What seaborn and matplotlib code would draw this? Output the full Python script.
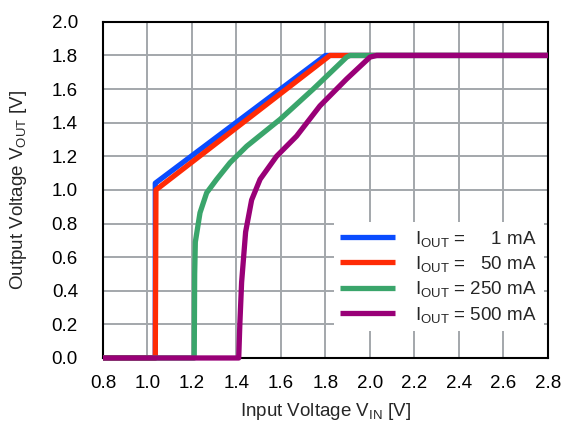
import pandas as pd
import seaborn as sns
from matplotlib import pyplot as plt

# (V_IN, V_OUT)
vin_1ma = [0.8, 1.035, 1.035, 1.80, 2.8]
vout_1ma = [0.0, 0.0, 1.04, 1.80, 1.80]

vin_50ma = [0.8, 1.035, 1.038, 1.82, 2.8]
vout_50ma = [0.0, 0.0, 1.00, 1.80, 1.80]

vin_250ma = [0.8, 1.21, 1.212, 1.215, 1.236, 1.266, 1.311, 1.371, 1.446, 1.596, 1.745, 1.895, 1.91, 2.8]
vout_250ma = [0.0, 0.0, 0.50, 0.69, 0.864, 0.983, 1.063, 1.162, 1.26, 1.42, 1.60, 1.79, 1.80, 1.80]

vin_500ma = [0.8, 1.41, 1.415, 1.423, 1.441, 1.468, 1.506, 1.58, 1.67, 1.775, 1.895, 2.0, 2.03, 2.8]
vout_500ma = [0.0, 0.0, 0.20, 0.45, 0.75, 0.94, 1.063, 1.20, 1.32, 1.50, 1.66, 1.79, 1.80, 1.80]

labels = [r"$\mathregular{I_{OUT}}$ =     1 mA",
          r"$\mathregular{I_{OUT}}$ =   50 mA",
          r"$\mathregular{I_{OUT}}$ = 250 mA",
          r"$\mathregular{I_{OUT}}$ = 500 mA"]
colors = ["#0a4cff", "#ff2b06", "#3aa56b", "#990077"]

x_ticks = [0.8, 1.0, 1.2, 1.4, 1.6, 1.8, 2.0, 2.2, 2.4, 2.6, 2.8]
y_ticks = [0.0, 0.2, 0.4, 0.6, 0.8, 1.0, 1.2, 1.4, 1.6, 1.8, 2.0]

series = [(vin_1ma, vout_1ma), (vin_50ma, vout_50ma),
          (vin_250ma, vout_250ma), (vin_500ma, vout_500ma)]

sns.set_style("whitegrid")
plt.rcParams['font.family'] = ['Liberation Sans', 'DejaVu Sans']
plt.rcParams['mathtext.fontset'] = 'custom'
plt.rcParams['mathtext.rm'] = 'Liberation Sans'

fs = 13.5
fig = plt.figure(figsize=(5.61, 4.28), dpi=100)
ax = fig.add_axes([0.1836, 0.1636, 0.7932, 0.7854])

for (xs, ys), label, color in zip(series, labels, colors):
    df = pd.DataFrame({"vin": xs, "vout": ys})
    sns.lineplot(data=df, x="vin", y="vout", ax=ax, color=color, label=label,
                 linewidth=3.8, sort=False, estimator=None, solid_capstyle="butt",
                 clip_on=False, zorder=3)

ax.set_xlim(0.8, 2.8)
ax.set_ylim(0.0, 2.0)
ax.set_xticks(x_ticks)
ax.set_yticks(y_ticks)
ax.set_xticklabels([f"{t:.1f}" for t in x_ticks])
ax.set_yticklabels([f"{t:.1f}" for t in y_ticks])
ax.grid(True, color="#a3a7ab", linewidth=1.4)
for s in ax.spines.values():
    s.set_color("black")
    s.set_linewidth(1.5)
    s.set_visible(True)
ax.tick_params(direction="in", length=4, width=1.2, color="#a3a7ab",
               labelsize=fs, labelcolor="black", top=True, right=True)
ax.tick_params(axis="x", pad=12)
ax.tick_params(axis="y", pad=18)

ax.set_xlabel(r"Input Voltage V$_{\mathregular{IN}}$ [V]", fontsize=fs)
ax.set_ylabel(r"Output Voltage V$_{\mathregular{OUT}}$ [V]", fontsize=fs)
ax.xaxis.set_label_coords(0.5, -0.128)
ax.yaxis.set_label_coords(-0.166, 0.5)

leg = ax.legend(loc="lower right", bbox_to_anchor=(0.99, 0.08), fontsize=fs,
                frameon=True, fancybox=False, framealpha=1.0, edgecolor="white",
                handlelength=2.9, handletextpad=1.1, labelspacing=0.28,
                borderpad=0.35, borderaxespad=0.0)
leg.get_frame().set_linewidth(0)

fig.savefig("out.png", dpi=100)
